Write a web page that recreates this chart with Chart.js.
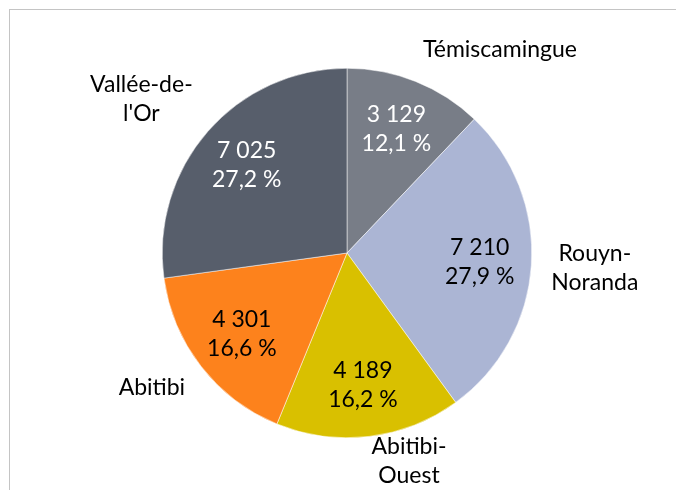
<!DOCTYPE html>
<html>
<head>
<meta charset="utf-8">
<script src="https://cdn.jsdelivr.net/npm/chart.js@4"></script>
<style>
  body { margin: 0; overflow: hidden; background: #fff; }
  #cadre { position: absolute; left: 9px; top: 9px; width: 720px; height: 520px; border: 1px solid #c4c4c4; }
  #zone { position: absolute; left: 0; top: 0; width: 676px; height: 490px; }
</style>
</head>
<body>
<div id="cadre"></div>
<div id="zone"><canvas id="graphiqueRegions" width="676" height="490"></canvas></div>
<script>
// données par MRC (sens horaire depuis le haut)
const regions = [['Témiscamingue'], ['Rouyn-', 'Noranda'], ['Abitibi-', 'Ouest'], ['Abitibi'], ['Vallée-de-', "l'Or"]];
const emplois = [3129, 7210, 4189, 4301, 7025];

const couleurs = ['#787d87', '#abb5d4', '#d9c000', '#fd821c', '#575e6b'];
const couleursTexte = ['#ffffff', '#000000', '#000000', '#000000', '#ffffff'];

const total = emplois.reduce((a, b) => a + b, 0);
const police = '23px Lato, "Open Sans", sans-serif';
const hauteurLigne = 29;

function formatNombre(v) {
  return String(v).replace(/\B(?=(\d{3})+(?!\d))/g, ' ');
}
function formatPct(v) {
  return (v / total * 100).toFixed(1).replace('.', ',') + ' %';
}

// étiquettes dans et autour des pointes
const etiquettes = {
  id: 'etiquettes',
  afterDatasetsDraw(chart) {
    const ctx = chart.ctx;
    const arcs = chart.getDatasetMeta(0).data;
    ctx.save();
    ctx.font = police;
    ctx.textAlign = 'center';
    ctx.textBaseline = 'middle';
    arcs.forEach((arc, i) => {
      const p = arc.getProps(['x', 'y', 'startAngle', 'endAngle', 'outerRadius'], true);
      const mid = (p.startAngle + p.endAngle) / 2;
      const cx = Math.cos(mid), cy = Math.sin(mid);

      // valeur + pourcentage
      const ix = p.x + cx * p.outerRadius * 0.72;
      const iy = p.y + cy * p.outerRadius * 0.72;
      ctx.fillStyle = couleursTexte[i];
      ctx.fillText(formatNombre(emplois[i]), ix, iy - hauteurLigne / 2);
      ctx.fillText(formatPct(emplois[i]), ix, iy + hauteurLigne / 2);

      // nom de la région, à côté de la pointe, gardé dans le canevas
      const lignes = regions[i];
      const w = Math.max(...lignes.map(l => ctx.measureText(l).width));
      const h = lignes.length * hauteurLigne;
      const ox = p.x + cx * (p.outerRadius + 20) + Math.sign(cx) * w / 2;
      let oy = p.y + cy * (p.outerRadius + 20) + cy * h / 2;
      oy = Math.min(Math.max(oy, h / 2), chart.height - h / 2);
      ctx.fillStyle = '#000000';
      lignes.forEach((l, k) => {
        ctx.fillText(l, ox, oy - h / 2 + hauteurLigne * (k + 0.5));
      });
    });
    ctx.restore();
  }
};

const ctx = document.getElementById('graphiqueRegions');

new Chart(ctx, {
  type: 'pie',
  data: {
    labels: regions,
    datasets: [{
      data: emplois,
      backgroundColor: couleurs,
      borderColor: '#ffffff',
      borderWidth: 0.5
    }]
  },
  options: {
    responsive: false,
    animation: false,
    layout: { padding: { top: 68, bottom: 52, left: 162, right: 144 } },
    plugins: {
      legend: { display: false },
      tooltip: { enabled: false }
    }
  },
  plugins: [etiquettes]
});
</script>
</body>
</html>
